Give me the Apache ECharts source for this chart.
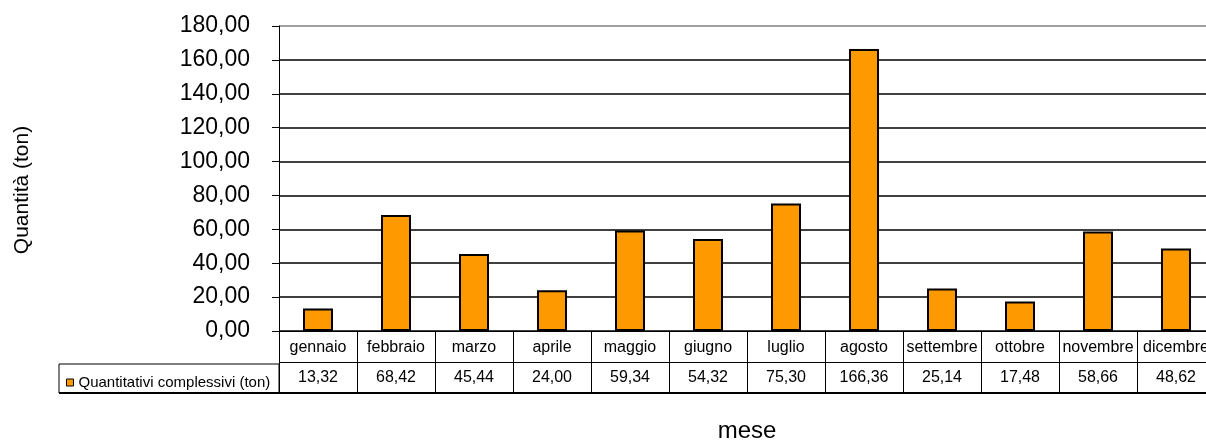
<!DOCTYPE html>
<html>
<head>
<meta charset="utf-8">
<script src="https://cdn.jsdelivr.net/npm/echarts@6/dist/echarts.min.js"></script>
<style>
html,body{margin:0;padding:0;background:#fff;}
#chart{width:1206px;height:441px;}
</style>
</head>
<body>
<div id="chart"></div>
<script>
const categories = ['gennaio','febbraio','marzo','aprile','maggio','giugno','luglio','agosto','settembre','ottobre','novembre','dicembre'];
const values = [13.32, 68.42, 45.44, 24.00, 59.34, 54.32, 75.30, 166.36, 25.14, 17.48, 58.66, 48.62];
const seriesName = 'Quantitativi complessivi (ton)';
const yMin = 0, yMax = 180, yStep = 20;
const yTitle = 'Quantità (ton)';
const xTitle = 'mese';

const FONT = 'Arial, "Liberation Sans", sans-serif';
const fmt = v => v.toFixed(2).replace('.', ',');

const gridColors = [];
for (let v = yMin; v < yMax; v += yStep) gridColors.push('#000');
gridColors.push('#808080');

const chart = echarts.init(document.getElementById('chart'), null, {renderer: 'canvas'});
chart.setOption({
  animation: false,
  backgroundColor: '#fff',
  textStyle: {fontFamily: FONT, color: '#000'},
  legend: {
    left: 61, top: 370,
    icon: 'rect', itemWidth: 7, itemHeight: 7, itemGap: 0,
    textStyle: {fontFamily: FONT, fontSize: 15, color: '#000'},
    data: [{name: seriesName, itemStyle: {color: '#FF9900', borderColor: '#000', borderWidth: 1}}]
  },
  grid: [
    {left: 279, top: 26, width: 936, height: 305, containLabel: false, outerBoundsMode: 'none'},
    {left: 279, top: 331, width: 936, height: 62, containLabel: false, outerBoundsMode: 'none'}
  ],
  xAxis: [
    {
      type: 'category', gridIndex: 0, data: categories,
      axisLine: {lineStyle: {color: '#000', width: 1}},
      axisTick: {show: true, length: 4, lineStyle: {color: '#000'}},
      axisLabel: {color: '#000', fontSize: 16, fontFamily: FONT, margin: 9, interval: 0},
      name: xTitle, nameLocation: 'middle', nameGap: 88,
      nameTextStyle: {fontSize: 24, fontFamily: FONT, color: '#000'}
    },
    {
      type: 'category', gridIndex: 1, data: categories, position: 'bottom',
      axisLine: {show: true, lineStyle: {color: '#000', width: 2}},
      axisTick: {show: false},
      splitLine: {show: true, lineStyle: {color: '#000', width: 1}},
      axisLabel: {inside: true, margin: 7, interval: 0, color: '#000', fontSize: 16, fontFamily: FONT,
        formatter: (val, idx) => fmt(values[idx])}
    }
  ],
  yAxis: [
    {
      type: 'value', gridIndex: 0, min: yMin, max: yMax, interval: yStep,
      axisLine: {show: true, lineStyle: {color: '#000', width: 1}},
      axisTick: {show: true, length: 7, lineStyle: {color: '#000'}},
      axisLabel: {color: '#000', fontSize: 23, fontFamily: FONT, margin: 29, formatter: v => fmt(v)},
      splitLine: {show: true, lineStyle: {color: gridColors, width: 1.5}}
    },
    {
      type: 'value', gridIndex: 1, min: 0, max: 2, interval: 1,
      axisLine: {show: false}, axisTick: {show: false}, axisLabel: {show: false},
      splitLine: {show: true, lineStyle: {color: '#000', width: 1}}
    }
  ],
  series: [{
    name: seriesName, type: 'bar', xAxisIndex: 0, yAxisIndex: 0,
    data: values, barWidth: 30,
    itemStyle: {color: '#FF9900', borderColor: '#000', borderWidth: 2}
  }],
  graphic: [
    {type: 'rect', shape: {x: 59, y: 364, width: 220, height: 29},
     style: {fill: 'none', stroke: '#000', lineWidth: 1}, z: 10},
    {type: 'line', shape: {x1: 59, y1: 393, x2: 279, y2: 393},
     style: {stroke: '#000', lineWidth: 2}, z: 10},
    {type: 'text', x: 22, y: 190, rotation: Math.PI / 2,
     style: {text: yTitle, font: '21px ' + FONT, fill: '#000', align: 'center', verticalAlign: 'middle'}}
  ]
});
</script>
</body>
</html>
